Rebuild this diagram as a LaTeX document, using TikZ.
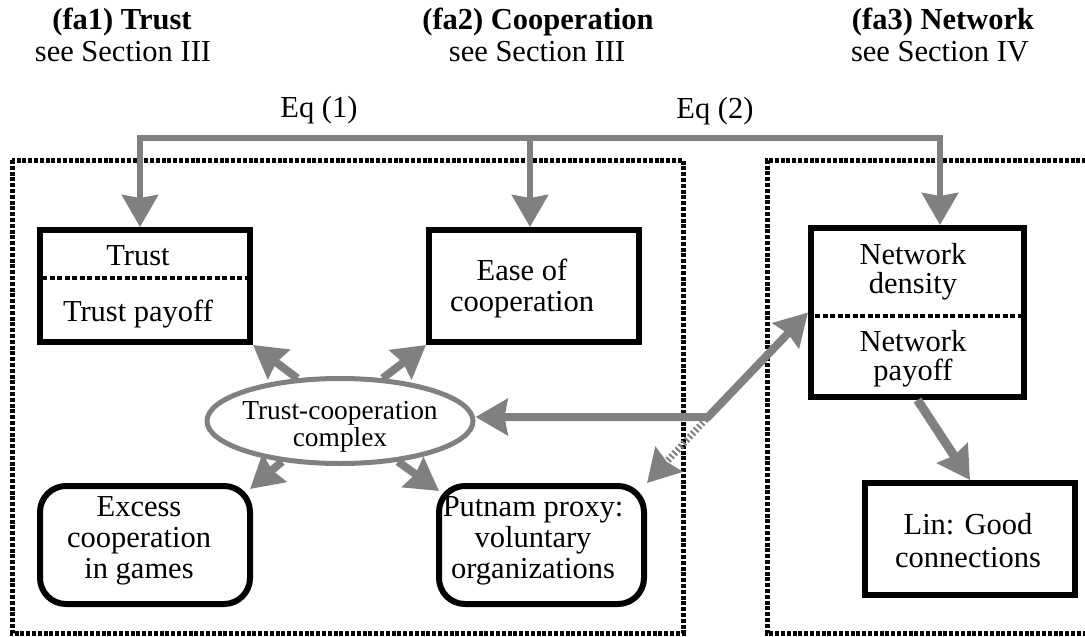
\documentclass[tikz,border=0pt]{standalone}
\usepackage{fontspec}
\setmainfont{Liberation Serif}
\usetikzlibrary{arrows.meta,shapes.geometric,calc}
\definecolor{ag}{HTML}{808080}
\begin{document}
\begin{tikzpicture}[x=1pt,y=-1pt,
  every node/.style={font=\fontsize{30.5}{31}\selectfont},
  lbl/.style={inner sep=0pt, outer sep=0pt, anchor=base},
  txt/.style={inner sep=0pt, outer sep=0pt, align=center},
  sqbox/.style={draw=black, line width=6pt, inner sep=0pt},
  rbox/.style={draw=black, line width=6pt, inner sep=0pt, rounded corners=26pt},
  divline/.style={line width=4pt, dash pattern=on 5pt off 2.5pt},
  frame/.style={line width=5pt, dash pattern=on 4pt off 1.8pt},
  arr/.style={-{Stealth[length=32pt,width=36pt,inset=3pt]}},
  biarr/.style={{Stealth[length=32pt,width=36pt,inset=3pt]}-{Stealth[length=32pt,width=36pt,inset=3pt]}},
  bus/.style={draw=ag, line width=6pt, line join=miter},
  link/.style={draw=ag, line width=8pt, line join=miter},
]
\useasboundingbox (0,0) rectangle (1085,637);
\clip (0,0) rectangle (1085,637);

% titles
\node[lbl, font=\fontsize{30.5}{31}\selectfont\bfseries] (t1) at (122,29) {(fa1) Trust};
\node[lbl] (s1) at (123,61) {see Section III};
\node[lbl, font=\fontsize{30.5}{31}\selectfont\bfseries] (t2) at (538,29) {(fa2) Cooperation};
\node[lbl] (s2) at (537,61) {see Section III};
\node[lbl, font=\fontsize{30.5}{31}\selectfont\bfseries] (t3) at (943,29) {(fa3) Network};
\node[lbl] (s3) at (940,61) {see Section IV};
\node[lbl] (eq1) at (319,117) {Eq (1)};
\node[lbl] (eq2) at (715,118) {Eq (2)};

% frames
\draw[frame] (12,160) rectangle (683,633);
\draw[frame] (1092,160) -- (767,160) -- (767,633) -- (1092,633);

% boxes
\node[sqbox, minimum width=210pt, minimum height=112pt] (trust) at (145,286) {};
\node[lbl] (trustA) at (138,265) {Trust};
\node[lbl] (trustB) at (138,321) {Trust payoff};
\draw[divline] ([xshift=5pt]trust.west |- 0,278) -- ([xshift=-5pt]trust.east |- 0,278);

\node[sqbox, minimum width=210pt, minimum height=112pt] (ease) at (534,286) {};
\node[txt] (easet) at (522,289) {Ease of\\cooperation};

\node[sqbox, minimum width=213pt, minimum height=169pt] (net) at (917.5,312.5) {};
\node[txt, font=\fontsize{30.5}{29}\selectfont] (netA) at (913,272) {Network\\density};
\node[txt, font=\fontsize{30.5}{29}\selectfont] (netB) at (913,359) {Network\\payoff};
\draw[divline] ([xshift=7pt]net.west |- 0,316) -- ([xshift=-5pt]net.east |- 0,316);

\node[rbox, minimum width=210pt, minimum height=118pt] (excess) at (145,545) {};
\node[txt] (excesst) at (139,541) {Excess\\cooperation\\in games};

\node[rbox, minimum width=205pt, minimum height=118pt] (putnam) at (541.5,545) {};
\node[txt] (putnamt) at (533,541) {Putnam proxy:\\voluntary\\organizations};

\node[sqbox, minimum width=210pt, minimum height=112pt] (lin) at (970,539) {};
\node[txt, font=\fontsize{30.5}{33}\selectfont] (lint) at (968,541) {Lin: Good\\connections};

% ellipse
\node[draw=ag, line width=5pt, ellipse, minimum width=266pt, minimum height=85pt, inner sep=0pt] (ell) at (340,421) {};
\node[txt, font=\fontsize{27.4}{27}\selectfont] (ellt) at (340,427) {Trust-cooperation\\complex};

% top bus
\coordinate (b1) at (140,138);
\coordinate (b2) at (530,138);
\coordinate (b3) at (940,138);
\draw[bus, biarr] (b1 |- trust.north) -- (b1) -- (b3) -- (b3 |- net.north);
\draw[bus, arr] (b2) -- (b2 |- ease.north);

% ellipse links
\draw[link, arr] (ell.135) -- (trust.south east);
\draw[link, arr] (ell.45) -- (ease.south west);
\draw[link, arr] (ell.-145) -- ([shift={(-3,6)}]excess.north east);
\draw[link, arr] (ell.-35) -- ([shift={(3,8)}]putnam.north west);

% network links
\coordinate (bend) at (708,417);
\draw[link, biarr] (bend -| ell.east) -- (bend) -- (net.west);
\draw[draw=ag, line width=7pt, dash pattern=on 2pt off 2.5pt, arr, shorten <=3pt] (bend) -- (putnam.north east);
\draw[link, line width=9pt, arr] (net.south) -- (lin.north);
\end{tikzpicture}
\end{document}
